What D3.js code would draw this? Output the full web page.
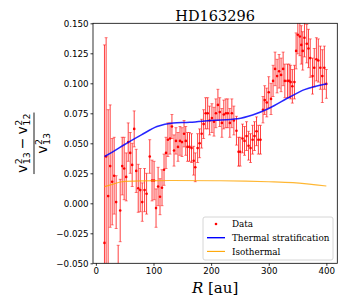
<!DOCTYPE html>
<html>
<head>
<meta charset="utf-8">
<script src="https://cdn.jsdelivr.net/npm/d3@7"></script>
<style>
  body { margin: 0; background: #fff; }
  svg { display: block; }
</style>
</head>
<body>
<div id="vis"></div>
<script>
// radius of each measured point [au]
const radius = [14.9, 17.8, 21.3, 24.8, 28.3, 31.7, 35.2, 38.7, 42.2, 45.7, 49.1, 52.6, 56.1, 59.6, 63.0, 66.5,
  70.0, 73.5, 77.0, 80.5, 84.5, 88.0, 93.5, 97.5, 101, 104.4, 108, 111.3, 114.8, 118.3, 121.7, 125, 128.7,
  132, 135.6, 139, 142.5, 146, 149.4, 153, 156, 159, 162.5, 166, 169.7, 172.5, 176.6, 180, 183.5, 187,
  190.5, 194, 197.4, 201.4, 205, 208.3, 211.8, 215, 218.7, 222, 225.6, 229, 232.5, 236, 239.5, 244,
  247.6, 250.4, 254.5, 258, 261.5, 265, 268.4, 272, 275.3, 278.8, 282, 285.7, 290, 293, 296.6, 300,
  304, 307.5, 311, 314.5, 318, 321.4, 325, 328, 332.5, 335.5, 338, 341, 344.6, 347.5, 350.5, 354,
  356.5, 359, 362, 366, 369, 372, 376, 379, 382.7, 386, 389.6, 393, 396.5, 400];
// (v13^2 - v12^2) / v13^2
const ratio = [-0.033, 0.039, 0.006, 0.031, 0.018, 0.023, 0.001, -0.065, -0.006, 0.031, 0.029, 0.022, 0.051,
  0.042, 0.032, 0.062, 0.027, 0.0125, 0.011, 0.001, 0.011, 0.008, 0.039, 0.019, 0.019, -0.004, 0.014,
  0.0055, 0.013, 0.028, 0.042, 0.053, 0.054, 0.064, 0.044, 0.052, 0.047, 0.052, 0.051, 0.058, 0.052,
  0.047, 0.047, 0.046, 0.0355, 0.030, 0.046, 0.050, 0.058, 0.066, 0.075, 0.075, 0.069, 0.071, 0.068,
  0.075, 0.082, 0.076, 0.067, 0.074, 0.075, 0.075, 0.067, 0.075, 0.069, 0.0605, 0.043, 0.043, 0.054,
  0.052, 0.056, 0.048, 0.046, 0.053, 0.056, 0.060, 0.053, 0.053, 0.078, 0.086, 0.084, 0.0925, 0.087,
  0.102, 0.112, 0.106, 0.110, 0.107, 0.112, 0.102, 0.102, 0.102, 0.101, 0.0975, 0.101, 0.127, 0.1405,
  0.139, 0.132, 0.127, 0.138, 0.133, 0.129, 0.121, 0.106, 0.113, 0.120, 0.119, 0.113, 0.106, 0.113, 0.0995];
const errs = [0.165, 0.099, 0.072, 0.051, 0.036, 0.032, 0.022, 0.030, 0.026, 0.024, 0.026, 0.020, 0.016,
  0.017, 0.018, 0.015, 0.018, 0.020, 0.018, 0.016, 0.018, 0.017, 0.014, 0.017, 0.016, 0.016, 0.016,
  0.015, 0.015, 0.013, 0.013, 0.014, 0.013, 0.010, 0.013, 0.011, 0.012, 0.012, 0.012, 0.011, 0.012,
  0.012, 0.012, 0.012, 0.012, 0.012, 0.012, 0.012, 0.012, 0.012, 0.013, 0.013, 0.012, 0.012, 0.012,
  0.012, 0.013, 0.012, 0.012, 0.012, 0.012, 0.012, 0.012, 0.012, 0.012, 0.012, 0.012, 0.012, 0.012,
  0.012, 0.012, 0.012, 0.012, 0.012, 0.012, 0.012, 0.012, 0.012, 0.011, 0.012, 0.012, 0.013, 0.013,
  0.013, 0.014, 0.014, 0.014, 0.014, 0.014, 0.014, 0.014, 0.014, 0.014, 0.014, 0.014, 0.015, 0.016,
  0.016, 0.016, 0.016, 0.016, 0.016, 0.016, 0.016, 0.015, 0.016, 0.018, 0.018, 0.018, 0.022, 0.018, 0.012];

// model curves
const thermalR = [15, 30, 50, 79, 106, 134, 163, 200, 246, 272, 300, 338, 362, 401];
const thermalV = [0.039, 0.043, 0.049, 0.057, 0.064, 0.067, 0.0675, 0.069, 0.0705, 0.0736, 0.079, 0.089, 0.0947, 0.0997];
const isoR = [15, 30, 45, 80, 130, 212, 260, 300, 342, 400];
const isoV = [0.0139, 0.016, 0.018, 0.0187, 0.019, 0.0188, 0.0185, 0.018, 0.0172, 0.0144];

const xTicks = [0, 100, 200, 300, 400];
const yTicks = [-0.05, -0.025, 0, 0.025, 0.05, 0.075, 0.1, 0.125, 0.15];

const W = 348, H = 305;
const margin = { top: 23.3, left: 93, right: 10.7, bottom: 41.7 };

const svg = d3.select('#vis')
  .append('svg')
  .attr('width', W)
  .attr('height', H);

const x = d3.scaleLinear().domain([-5, 419]).range([margin.left, W - margin.right]);
const y = d3.scaleLinear().domain([-0.05, 0.15]).range([H - margin.bottom, margin.top]);

svg.append('clipPath').attr('id', 'plotclip')
  .append('rect')
  .attr('x', x.range()[0]).attr('y', y.range()[1])
  .attr('width', x.range()[1] - x.range()[0])
  .attr('height', y.range()[0] - y.range()[1]);

// axes
const fmt = d3.format('.3f');
const xAxis = svg.append('g')
  .attr('transform', `translate(0, ${y.range()[0]})`)
  .call(d3.axisBottom(x).tickValues(xTicks).tickSize(2.5).tickPadding(2).tickFormat(d3.format('d')));
const yAxis = svg.append('g')
  .attr('transform', `translate(${x.range()[0]}, 0)`)
  .call(d3.axisLeft(y).tickValues(yTicks).tickSize(2.5).tickPadding(2)
    .tickFormat(d => fmt(d).replace('-', '\u2212')));
[xAxis, yAxis].forEach(a => {
  a.select('.domain').remove();
  a.selectAll('line').attr('stroke', '#000').attr('stroke-width', 0.8);
  a.selectAll('text').attr('fill', '#000')
    .style('font-family', 'DejaVu Sans').style('font-size', '8.7px');
});

const plot = svg.append('g').attr('clip-path', 'url(#plotclip)');

// error bars
const idx = d3.range(radius.length);
plot.selectAll('.err')
  .data(idx)
  .join('line')
  .attr('x1', i => x(radius[i])).attr('x2', i => x(radius[i]))
  .attr('y1', i => y(ratio[i] - errs[i])).attr('y2', i => y(ratio[i] + errs[i]))
  .attr('stroke', 'red').attr('stroke-opacity', 0.75).attr('stroke-width', 1);
[-1, 1].forEach(s => {
  plot.selectAll('.cap' + (s > 0 ? 'u' : 'd'))
    .data(idx)
    .join('line')
    .attr('x1', i => x(radius[i]) - 1.5).attr('x2', i => x(radius[i]) + 1.5)
    .attr('y1', i => y(ratio[i] + s * errs[i])).attr('y2', i => y(ratio[i] + s * errs[i]))
    .attr('stroke', 'red').attr('stroke-opacity', 0.5).attr('stroke-width', 1);
});
plot.selectAll('.pt')
  .data(idx)
  .join('circle')
  .attr('cx', i => x(radius[i])).attr('cy', i => y(ratio[i]))
  .attr('r', 1.3)
  .attr('fill', 'red');

// model lines
const line = d3.line().curve(d3.curveMonotoneX);
plot.append('path')
  .attr('d', line(isoR.map((r, i) => [x(r), y(isoV[i])])))
  .attr('fill', 'none').attr('stroke', '#ffa500').attr('stroke-opacity', 0.8).attr('stroke-width', 1.1);
plot.append('path')
  .attr('d', line(thermalR.map((r, i) => [x(r), y(thermalV[i])])))
  .attr('fill', 'none').attr('stroke', 'blue').attr('stroke-opacity', 0.85).attr('stroke-width', 1.5);

// frame
svg.append('rect')
  .attr('x', x.range()[0]).attr('y', y.range()[1])
  .attr('width', x.range()[1] - x.range()[0])
  .attr('height', y.range()[0] - y.range()[1])
  .attr('fill', 'none').attr('stroke', '#000').attr('stroke-width', 0.8);

// legend
const lg = svg.append('g').attr('transform', 'translate(203, 217)');
lg.append('rect')
  .attr('width', 130).attr('height', 43).attr('rx', 2)
  .attr('fill', '#fff').attr('fill-opacity', 0.8)
  .attr('stroke', '#ccc').attr('stroke-width', 0.8);
const legendItems = ['Data', 'Thermal stratification', 'Isothermal'];
legendItems.forEach((name, i) => {
  const cy = 7 + i * 13.7;
  if (i === 0) {
    lg.append('circle').attr('cx', 13).attr('cy', cy).attr('r', 1.3).attr('fill', 'red');
  } else {
    lg.append('line').attr('x1', 4).attr('x2', 22).attr('y1', cy).attr('y2', cy)
      .attr('stroke', i === 1 ? 'blue' : '#ffa500').attr('stroke-width', i === 1 ? 1.4 : 1.1);
  }
  lg.append('text')
    .attr('x', 29).attr('y', cy + 3.2)
    .style('font-family', 'DejaVu Serif').style('font-size', '8.8px')
    .text(name);
});

// title
svg.append('text')
  .attr('x', (x.range()[0] + x.range()[1]) / 2).attr('y', 20.5)
  .attr('text-anchor', 'middle')
  .style('font-family', 'DejaVu Serif').style('font-size', '14.5px')
  .text('HD163296');

// x label
const xl = svg.append('text')
  .attr('x', (x.range()[0] + x.range()[1]) / 2).attr('y', 293)
  .attr('text-anchor', 'middle')
  .style('font-family', 'DejaVu Serif').style('font-size', '15px');
xl.append('tspan').style('font-style', 'italic').text('R');
xl.append('tspan').text(' [au]');

// y label: fraction (v13^2 - v12^2) / v13^2
const yl = svg.append('g').attr('transform', `translate(34, ${(y.range()[0] + y.range()[1]) / 2}) rotate(-90)`);
const fs = 14, fsS = 9.5;
function term(g, x0, base, sub) {
  const v = g.append('text').attr('x', x0).attr('y', base)
    .style('font-family', 'DejaVu Sans').style('font-size', fs + 'px').text('v');
  const wv = v.node().getComputedTextLength();
  const sp = g.append('text').attr('x', x0 + wv + 0.5).attr('y', base - 5.5)
    .style('font-family', 'DejaVu Sans').style('font-size', fsS + 'px').text('2');
  const sb = g.append('text').attr('x', x0 + wv + 0.5).attr('y', base + 2.5)
    .style('font-family', 'DejaVu Sans').style('font-size', fsS + 'px').text(sub);
  return wv + 0.5 + Math.max(sp.node().getComputedTextLength(), sb.node().getComputedTextLength());
}
const num = yl.append('g');
let cx = 0;
cx += term(num, cx, -7, '13');
const minus = num.append('text').attr('x', cx + 3).attr('y', -7)
  .style('font-family', 'DejaVu Sans').style('font-size', fs + 'px').text('\u2212');
cx += 3 + minus.node().getComputedTextLength() + 3;
cx += term(num, cx, -7, '12');
num.attr('transform', `translate(${-cx / 2}, 0)`);
yl.append('line').attr('x1', -cx / 2 - 1).attr('x2', cx / 2 + 1)
  .attr('y1', 0).attr('y2', 0).attr('stroke', '#000').attr('stroke-width', 0.9);
const den = yl.append('g');
const dw = term(den, 0, 13, '13');
den.attr('transform', `translate(${-dw / 2}, 0)`);
</script>
</body>
</html>
